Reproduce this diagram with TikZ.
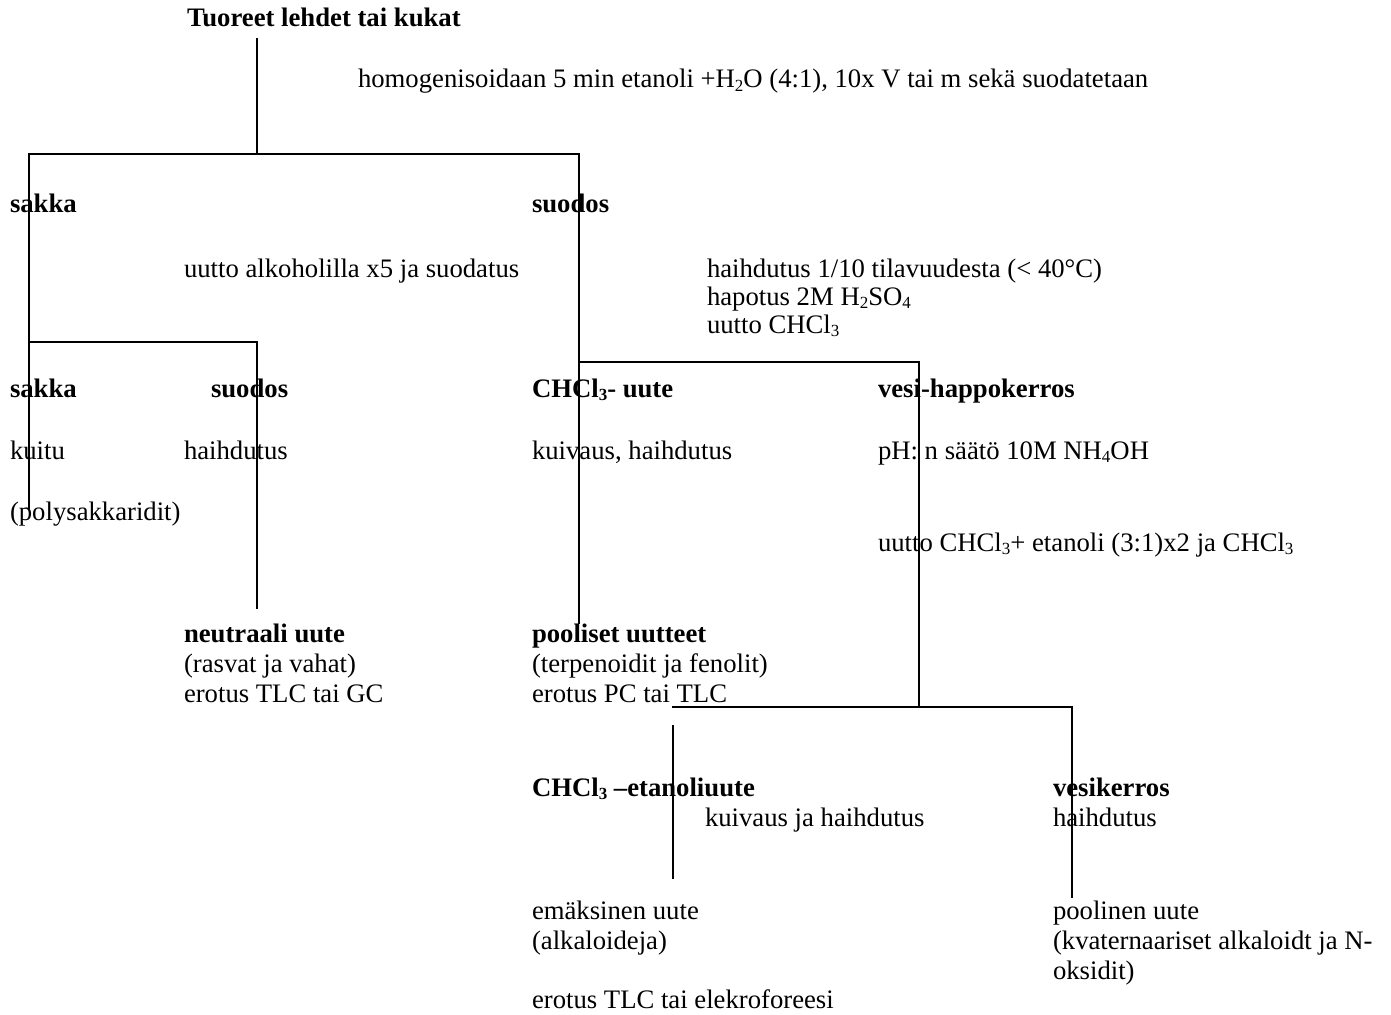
\documentclass[tikz,border=0pt]{standalone}
\usepackage{fontspec}
\setmainfont{Liberation Serif}
\newcommand\chsub[1]{\raisebox{-0.28ex}{\fontsize{17}{17}\selectfont #1}}
\begin{document}
\begin{tikzpicture}[x=1pt,y=-1pt,
  txt/.style={anchor=base west,inner sep=0pt,outer sep=0pt,font=\fontsize{26.7}{30}\selectfont},
  btxt/.style={txt,font=\fontsize{26.7}{30}\selectfont\bfseries},
  tree/.style={line width=2pt,line cap=rect}]
\useasboundingbox (0,0) rectangle (1391,1014);
% texts
\node[btxt] (top) at (187,27) {Tuoreet lehdet tai kukat};
\node[txt] (homog) at (358,88) {homogenisoidaan 5 min etanoli +H\chsub{2}O (4:1), 10x V tai m sekä suodatetaan};
\node[btxt] (sakka1) at (10,212) {sakka};
\node[btxt] (suodos1) at (532,212) {suodos};
\node[txt] (uuttoalk) at (184,277) {uutto alkoholilla x5 ja suodatus};
\node[txt] (haih110) at (707,277) {haihdutus 1/10 tilavuudesta (< 40°C)};
\node[txt] (hapotus) at (707,305) {hapotus 2M H\chsub{2}SO\chsub{4}};
\node[txt] (uuttochcl) at (707,333) {uutto CHCl\chsub{3}};
\node[btxt] (sakka2) at (10,397) {sakka};
\node[btxt] (suodos2) at (211,397) {suodos};
\node[btxt] (chcluute) at (532,397) {CHCl\chsub{3}- uute};
\node[btxt] (vesihappo) at (878,397) {vesi-happokerros};
\node[txt] (kuitu) at (10,459) {kuitu};
\node[txt] (haihd1) at (184,459) {haihdutus};
\node[txt] (kuivaus1) at (532,459) {kuivaus, haihdutus};
\node[txt] (ph) at (878,459) {pH: n säätö 10M NH\chsub{4}OH};
\node[txt] (polys) at (10,520) {(polysakkaridit)};
\node[txt] (uuttoet) at (878,551) {uutto CHCl\chsub{3}+ etanoli (3:1)x2 ja CHCl\chsub{3}};
\node[btxt] (neutraali) at (184,642) {neutraali uute};
\node[txt] (rasvat) at (184,672) {(rasvat ja vahat)};
\node[txt] (erotus1) at (184,702) {erotus TLC tai GC};
\node[btxt] (pooliset) at (532,642) {pooliset uutteet};
\node[txt] (terpen) at (532,672) {(terpenoidit ja fenolit)};
\node[txt] (erotus2) at (532,702) {erotus PC tai TLC};
\node[btxt] (chcletanol) at (532,796) {CHCl\chsub{3} –etanoliuute};
\node[txt] (kuivaus2) at (705,826) {kuivaus ja haihdutus};
\node[btxt] (vesikerros) at (1053,796) {vesikerros};
\node[txt] (haihd2) at (1053,826) {haihdutus};
\node[txt] (emaks) at (532,919) {emäksinen uute};
\node[txt] (alkal) at (532,949) {(alkaloideja)};
\node[txt] (erotus3) at (532,1008) {erotus TLC tai elekroforeesi};
\node[txt] (poolinen) at (1053,919) {poolinen uute};
\node[txt] (kvater) at (1053,949) {(kvaternaariset alkaloidt ja N-};
\node[txt] (oksidit) at (1053,979) {oksidit)};
% tree coordinates
\coordinate (a0) at (257,39);
\coordinate (a1) at (257,154);
\coordinate (b0) at (29,154);
\coordinate (b1) at (579,154);
\coordinate (c0) at (29,342);
\coordinate (c1) at (29,508);
\coordinate (d0) at (257,342);
\coordinate (d1) at (257,608);
\coordinate (e0) at (579,362);
\coordinate (e1) at (579,623);
\coordinate (f0) at (919,362);
\coordinate (f1) at (919,707);
\coordinate (g0) at (673,707);
\coordinate (g1) at (1072,707);
\coordinate (h0) at (673,726);
\coordinate (h1) at (673,878);
\coordinate (i1) at (1072,897);
% tree lines
\draw[tree] (a0) -- (a1);
\draw[tree] (b0) -- (b1);
\draw[tree] (b0) -- (c1);
\draw[tree] (c0) -- (d0);
\draw[tree] (d0) -- (d1);
\draw[tree] (b1) -- (e1);
\draw[tree] (e0) -- (f0);
\draw[tree] (f0) -- (f1);
\draw[tree] (g0) -- (g1);
\draw[tree] (h0) -- (h1);
\draw[tree] (g1) -- (i1);
\end{tikzpicture}
\end{document}
